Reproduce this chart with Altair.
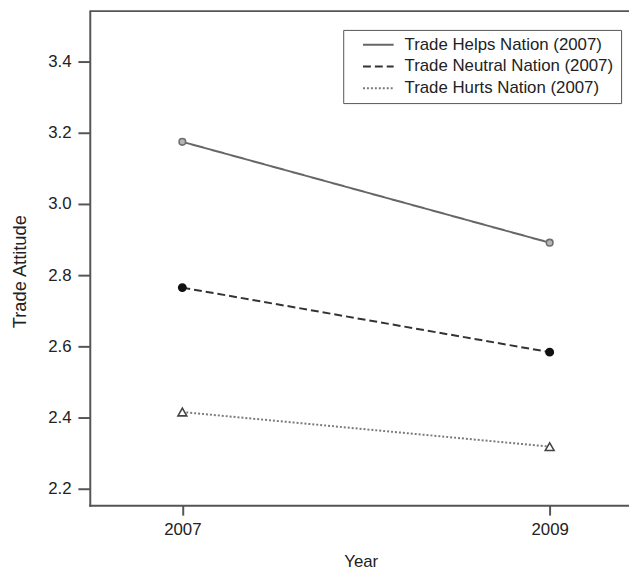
import altair as alt
import pandas as pd

# ---- data ----
years = [2007, 2009]
series = [
    "Trade Helps Nation (2007)",
    "Trade Neutral Nation (2007)",
    "Trade Hurts Nation (2007)",
]
helps = [3.174, 2.891]
neutral = [2.765, 2.584]
hurts = [2.416, 2.319]
y_ticks = [2.2, 2.4, 2.6, 2.8, 3.0, 3.2, 3.4]

rows = []
for name, vals in zip(series, [helps, neutral, hurts]):
    for yr, v in zip(years, vals):
        rows.append({"Year": yr, "Attitude": v, "Series": name})
df = pd.DataFrame(rows)

# ---- styling ----
W, H = 545.3, 499.7
FONT = "Liberation Sans"
FRAME = "#555555"
TEXT = "#222222"

xscale = alt.Scale(domain=[2006.496, 2009.432], nice=False, zero=False)
yscale = alt.Scale(domain=[2.1545, 3.5406], nice=False, zero=False)

line_colors = ["#666666", "#333333", "#7a7a7a"]
dashes = [[1, 0], [8, 4], [2, 2]]
marker_shapes = ["circle", "circle", "triangle-up"]
marker_fills = ["#b5b5b5", "#111111", "#ffffff"]
marker_strokes = ["#6e6e6e", "#111111", "#444444"]
marker_sizes = [45, 55, 80]

legend = alt.Legend(
    title=None,
    orient="none",
    legendX=256.3,
    legendY=19,
    symbolType="stroke",
    symbolSize=961,
    symbolStrokeWidth=2,
    symbolOffset=12,
    labelOffset=10,
    clipHeight=16,
    rowPadding=5,
    padding=7,
    labelFont=FONT,
    labelFontSize=17,
    labelColor=TEXT,
    labelLimit=0,
    strokeColor=FRAME,
    fillColor="white",
)

x_enc = alt.X(
    "Year:Q",
    scale=xscale,
    axis=alt.Axis(
        values=years,
        format="d",
        title="Year",
        tickSize=10,
        labelPadding=7,
        titleX=274,
        titleY=62,
        titleBaseline="alphabetic",
        titleAlign="center",
    ),
)
y_enc = alt.Y(
    "Attitude:Q",
    scale=yscale,
    axis=alt.Axis(
        values=y_ticks,
        format=".1f",
        title="Trade Attitude",
        titleFontSize=18.5,
        tickSize=12,
        labelPadding=7,
        titleX=-65.2,
        titleY=263,
        titleAngle=270,
        titleBaseline="alphabetic",
        titleAlign="center",
    ),
)

lines = alt.Chart(df).mark_line(strokeWidth=2).encode(
    x=x_enc,
    y=y_enc,
    color=alt.Color("Series:N", scale=alt.Scale(domain=series, range=line_colors), legend=legend),
    strokeDash=alt.StrokeDash("Series:N", scale=alt.Scale(domain=series, range=dashes), legend=legend),
)

point_layers = []
for name, shp, fc, sc, sz in zip(series, marker_shapes, marker_fills, marker_strokes, marker_sizes):
    point_layers.append(
        alt.Chart(df)
        .transform_filter(alt.datum.Series == name)
        .mark_point(shape=shp, fill=fc, stroke=sc, filled=True, opacity=1, strokeWidth=1.6, size=sz)
        .encode(
            x=alt.X("Year:Q", scale=xscale),
            y=alt.Y("Attitude:Q", scale=yscale),
        )
    )

top_frame = alt.Chart(pd.DataFrame({"k": [0]})).mark_rule(color=FRAME, strokeWidth=2).encode(
    x=alt.value(0), x2=alt.value(W), y=alt.value(0)
)

chart = (
    alt.layer(lines, *point_layers, top_frame)
    .properties(
        width=W,
        height=H,
        autosize=alt.AutoSizeParams(type="none"),
        padding={"left": 82.7, "top": 0, "right": 0, "bottom": 62},
    )
    .configure_view(stroke=None)
    .configure_axis(
        grid=False,
        domainColor=FRAME,
        domainWidth=2,
        domainCap="square",
        tickColor=FRAME,
        tickWidth=2,
        labelFont=FONT,
        labelFontSize=17,
        labelColor=TEXT,
        titleFont=FONT,
        titleFontSize=17,
        titleFontWeight="normal",
        titleColor=TEXT,
    )
)

chart.save("out.html", embed_options={"renderer": "svg", "actions": False})
